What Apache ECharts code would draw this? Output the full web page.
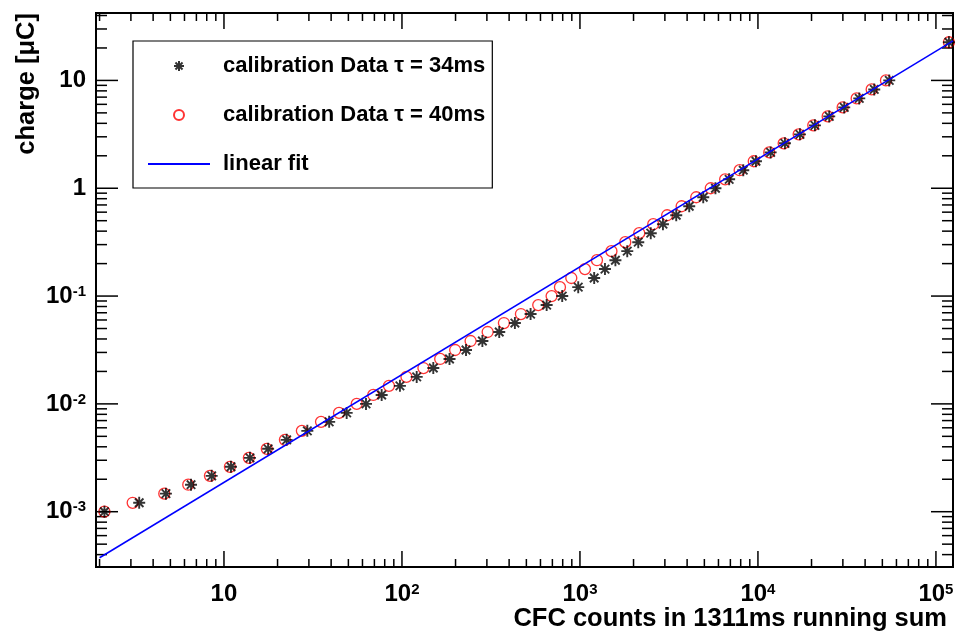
<!DOCTYPE html>
<html>
<head>
<meta charset="utf-8">
<script src="https://cdn.jsdelivr.net/npm/echarts@6/dist/echarts.min.js"></script>
<style>html,body{margin:0;padding:0;background:#fff}#c{width:958px;height:633px}</style>
</head>
<body>
<div id="c"></div>
<script>
// charge levels [µC]
const charge = [0.00100,0.00121,0.00147,0.00178,0.00215,0.00261,0.00316,0.00383,0.00464,0.00562,
  0.00681,0.00825,0.0100,0.0121,0.0147,0.0178,0.0215,0.0261,0.0316,0.0383,
  0.0464,0.0562,0.0681,0.0825,0.100,0.121,0.147,0.178,0.215,0.261,
  0.316,0.383,0.464,0.562,0.681,0.825,1.00,1.21,1.47,1.78,
  2.15,2.61,3.16,3.83,4.64,5.62,6.81,8.25,10.0,22.6];
// CFC counts, tau = 34 ms
const counts34 = [2.13,3.34,4.72,6.53,8.53,10.95,14.0,17.7,22.5,29.4,
  39.0,48.9,62.8,76.9,97.4,121,150,185,229,283,
  352,431,528,650,795,978,1202,1382,1582,1844,
  2126,2499,2926,3475,4111,4928,5771,6890,8270,9745,
  11785,14184,17219,20902,25153,30530,37082,45020,54660,118300];
// CFC counts, tau = 40 ms
const counts40 = [2.13,3.07,4.62,6.30,8.34,10.8,13.8,17.4,22.0,27.4,
  35.1,44.3,55.7,69.0,84.5,106,132,164,199,243,
  303,374,466,583,693,772,894,1067,1246,1503,
  1797,2153,2581,3090,3726,4502,5430,6542,7893,9471,
  11574,13947,16932,20451,24640,29909,35850,43540,52380,118300];
// linear fit end points
const fitX = [2, 124700];
const fitY = [0.000374, 23.3];

const xMin = 1.91, xMax = 124700, yMin = 0.000307, yMax = 42.2;
const xMajor = [10, 100, 1000, 10000, 100000];
const yMajor = [0.001, 0.01, 0.1, 1, 10];
const minorMult = [2,3,4,5,6,7,8,9];
const xDecades = [1, 10, 100, 1000, 10000];
const yDecades = [0.0001, 0.001, 0.01, 0.1, 1, 10];

const xTicks = [];
xMajor.forEach(v => xTicks.push([v, 1, 1]));
xDecades.forEach(d => minorMult.forEach(m => { const v = d*m; if (v >= xMin && v <= xMax) xTicks.push([v, 1, 0]); }));
const yTicks = [];
yMajor.forEach(v => yTicks.push([10, v, 1]));
yDecades.forEach(d => minorMult.forEach(m => { const v = d*m; if (v >= yMin && v <= yMax) yTicks.push([10, v, 0]); }));

const FONT = "'Liberation Sans', Arial, Helvetica, sans-serif";

function expLabel(v) {
  const e = Math.log10(v);
  const r = Math.round(e);
  if (Math.abs(e - r) > 1e-6) return '';
  if (r === 0) return '{b|1}';
  if (r === 1) return '{b|10}';
  return '{b|10}{s|' + (r < 0 ? '-' + (-r) : r) + '}';
}
const richLab = {
  b: {fontSize: 24, fontWeight: 'bold', fontFamily: FONT, color: '#000', lineHeight: 24, verticalAlign: 'bottom'},
  s: {fontSize: 15, fontWeight: 'bold', fontFamily: FONT, color: '#000', lineHeight: 13, verticalAlign: 'top'}
};

function tickRenderer(isX) {
  return function (params, api) {
    const cs = params.coordSys;
    const major = api.value(2) === 1;
    const p = api.coord([api.value(0), api.value(1)]);
    const style = {stroke: '#000', lineWidth: 1.5};
    if (isX) {
      const len = major ? 16 : 8;
      const x = p[0];
      return {type: 'group', children: [
        {type: 'line', shape: {x1: x, y1: cs.y + cs.height, x2: x, y2: cs.y + cs.height - len}, style},
        {type: 'line', shape: {x1: x, y1: cs.y, x2: x, y2: cs.y + len}, style}
      ]};
    } else {
      const len = major ? 22 : 11;
      const y = p[1];
      return {type: 'group', children: [
        {type: 'line', shape: {x1: cs.x, y1: y, x2: cs.x + len, y2: y}, style},
        {type: 'line', shape: {x1: cs.x + cs.width, y1: y, x2: cs.x + cs.width - len, y2: y}, style}
      ]};
    }
  };
}

const asterisk = 'path://M0,5L10,5M5,0L5,10M1.46,1.46L8.54,8.54M8.54,1.46L1.46,8.54';
const name34 = 'calibration Data \u03c4 = 34ms';
const name40 = 'calibration Data \u03c4 = 40ms';
const nameFit = 'linear fit';

const chart = echarts.init(document.getElementById('c'), null, {renderer: 'canvas'});
chart.setOption({
  animation: false,
  backgroundColor: '#fff',
  grid: {left: 96, right: 5, top: 13, bottom: 66, show: true, borderColor: '#000', borderWidth: 2, backgroundColor: 'transparent'},
  xAxis: {
    type: 'log', logBase: 10, min: xMin, max: xMax,
    axisLine: {show: false}, axisTick: {show: false}, splitLine: {show: false}, minorTick: {show: false},
    axisLabel: {showMinLabel: false, showMaxLabel: false, margin: 15, formatter: expLabel, rich: richLab}
  },
  yAxis: {
    type: 'log', logBase: 10, min: yMin, max: yMax,
    axisLine: {show: false}, axisTick: {show: false}, splitLine: {show: false}, minorTick: {show: false},
    axisLabel: {showMinLabel: false, showMaxLabel: false, margin: 10, formatter: expLabel, rich: richLab}
  },
  legend: {
    data: [name34, name40, {name: nameFit, itemStyle: {opacity: 0}}],
    orient: 'vertical', left: 133, top: 41,
    padding: [13, 7, 12, 14],
    itemWidth: 62, itemHeight: 10, itemGap: 25,
    borderColor: '#000', borderWidth: 1.2, backgroundColor: '#fff',
    selectedMode: false,
    textStyle: {fontSize: 22, fontWeight: 'bold', fontFamily: FONT, color: '#000', lineHeight: 24, padding: [0, 0, 0, 8]}
  },
  series: [
    {type: 'custom', silent: true, renderItem: tickRenderer(true), data: xTicks, z: 1},
    {type: 'custom', silent: true, renderItem: tickRenderer(false), data: yTicks, z: 1},
    {
      name: name40, type: 'scatter', symbol: 'circle', symbolSize: 11,
      itemStyle: {color: 'rgba(0,0,0,0)', borderColor: '#ff0000', borderWidth: 1.3},
      data: counts40.map((c, i) => [c, charge[i]]), z: 2
    },
    {
      name: name34, type: 'scatter', symbol: asterisk, symbolSize: 12,
      itemStyle: {color: '#000', borderColor: '#000', borderWidth: 1.9},
      data: counts34.map((c, i) => [c, charge[i]]), z: 3
    },
    {
      name: nameFit, type: 'line', symbol: 'none', showSymbol: false,
      lineStyle: {color: '#0000ff', width: 1.5}, itemStyle: {color: '#0000ff'},
      data: fitX.map((x, i) => [x, fitY[i]]), z: 4
    }
  ],
  graphic: [
    {type: 'text', x: 947, y: 619, style: {text: 'CFC counts in 1311ms running sum', font: 'bold 25.5px ' + FONT, fill: '#000', textAlign: 'right', textVerticalAlign: 'middle'}},
    {type: 'text', x: 27, y: 13, rotation: Math.PI / 2, style: {text: 'charge [\u03bcC]', font: 'bold 25.5px ' + FONT, fill: '#000', textAlign: 'right', textVerticalAlign: 'middle'}}
  ]
});
</script>
</body>
</html>
